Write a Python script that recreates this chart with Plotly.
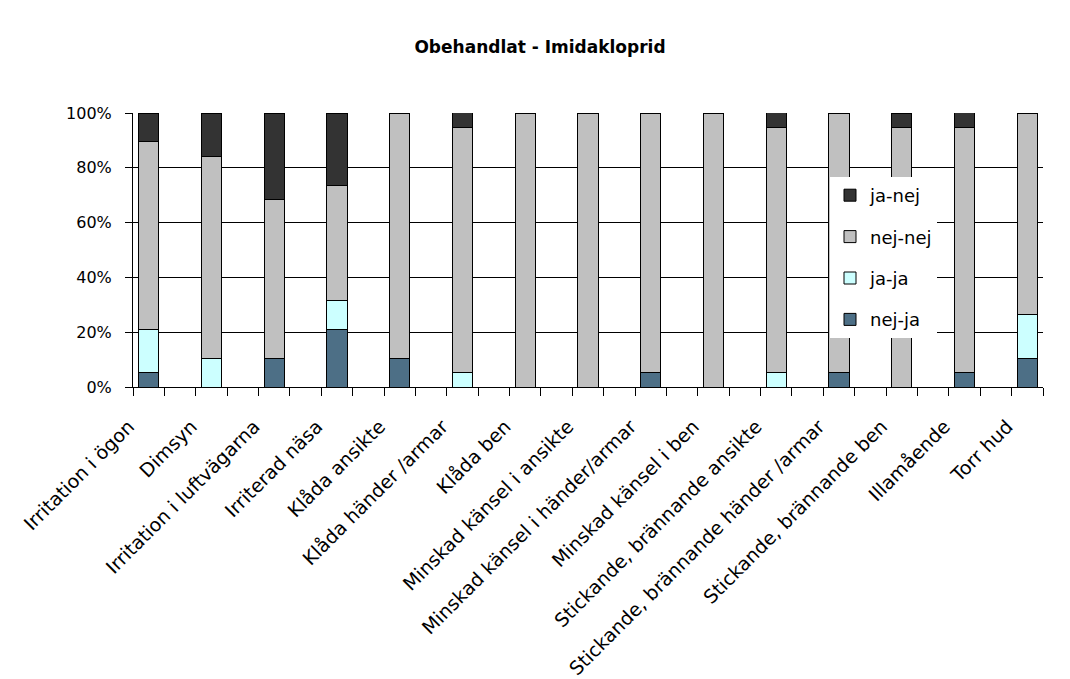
import plotly.graph_objects as go

# Symptom categories (x axis)
categories = [
    "Irritation i ögon", "Dimsyn", "Irritation i luftvägarna", "Irriterad näsa",
    "Klåda ansikte", "Klåda händer /armar", "Klåda ben",
    "Minskad känsel i ansikte", "Minskad känsel i händer/armar", "Minskad känsel i ben",
    "Stickande, brännande ansikte", "Stickande, brännande händer /armar",
    "Stickande, brännande ben", "Illamående", "Torr hud",
]

# Share of respondents per answer combination (%)
nej_ja = [5.3, 0, 10.5, 21.1, 10.5, 0, 0, 0, 5.3, 0, 0, 5.3, 0, 5.3, 10.5]
ja_ja = [15.8, 10.5, 0, 10.5, 0, 5.3, 0, 0, 0, 0, 5.3, 0, 0, 0, 15.8]
nej_nej = [68.4, 73.7, 57.9, 42.1, 89.5, 89.5, 100, 100, 94.7, 100, 89.5, 94.7, 94.7, 89.5, 73.7]
ja_nej = [10.5, 15.8, 31.6, 26.3, 0, 5.3, 0, 0, 0, 0, 5.3, 0, 5.3, 5.3, 0]

y_ticks = [0, 20, 40, 60, 80, 100]
y_tick_labels = ["0%", "20%", "40%", "60%", "80%", "100%"]

# (name, values, colour, legend rank) — stacked bottom to top
series = [
    ("nej-ja", nej_ja, "#4D6F86", 4),
    ("ja-ja", ja_ja, "#CCFFFF", 3),
    ("nej-nej", nej_nej, "#C0C0C0", 2),
    ("ja-nej", ja_nej, "#333333", 1),
]

FONT = "DejaVu Sans"
positions = list(range(len(categories)))

fig = go.Figure()
for name, vals, color, rank in series:
    fig.add_trace(go.Bar(
        x=positions, y=vals, name=name, legendgroup=name, legendrank=rank,
        width=0.32,
        marker=dict(color=color, line=dict(color="#000000", width=1)),
    ))

fig.update_layout(
    barmode="stack",
    width=1070, height=679,
    margin=dict(l=133, r=27, t=113, b=292),
    paper_bgcolor="white", plot_bgcolor="white",
    font=dict(family=FONT, size=16, color="#000000"),
    title=dict(
        text="<b>Obehandlat - Imidakloprid</b>",
        x=540 / 1070, xanchor="center", y=1 - 47 / 679, yanchor="middle",
        font=dict(family=FONT, size=17, color="#000000"),
    ),
    legend=dict(
        x=(830 - 133) / 910, y=(387 - 177) / 274,
        xanchor="left", yanchor="top",
        bgcolor="white", borderwidth=0,
        traceorder="grouped", tracegroupgap=15,
        font=dict(family=FONT, size=18),
    ),
    xaxis=dict(
        range=[-0.25, len(categories) - 0.75],
        tickmode="array", tickvals=positions, ticktext=categories,
        tickangle=-45, ticks="", showgrid=False, zeroline=False,
        showline=True, linecolor="#000000", linewidth=1,
        tickfont=dict(family=FONT, size=19),
        ticklabelshift=-20, ticklabelstandoff=20,
        automargin=False,
        minor=dict(ticks="outside", tick0=-0.25, dtick=0.5, ticklen=8,
                   tickcolor="#000000", tickwidth=1, showgrid=False),
    ),
    yaxis=dict(
        range=[0, 100], tickmode="array", tickvals=y_ticks, ticktext=y_tick_labels,
        ticks="outside", ticklen=7, tickcolor="#000000",
        showgrid=True, gridcolor="#000000", gridwidth=1,
        zeroline=False, showline=True, linecolor="#000000", linewidth=1,
        tickfont=dict(family=FONT, size=16),
        ticklabelstandoff=10, automargin=False,
    ),
)

fig.write_html("out.html")
